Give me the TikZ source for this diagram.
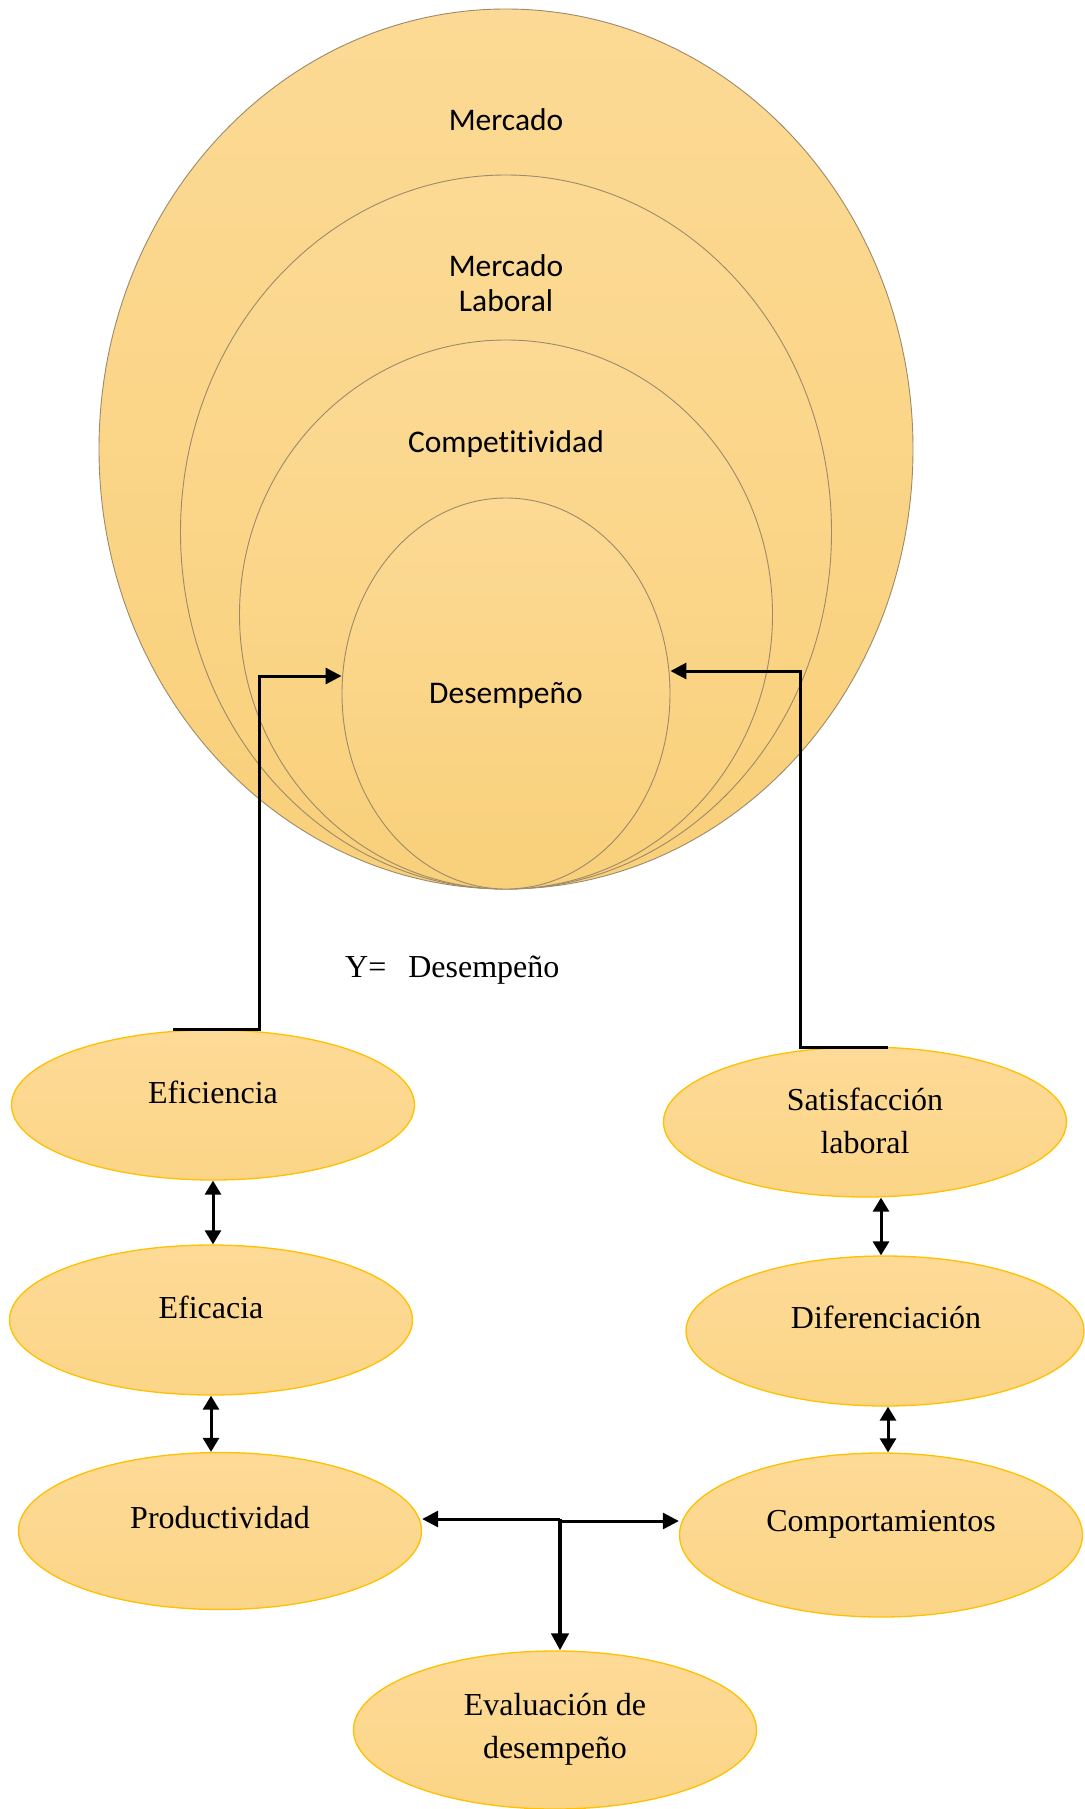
\documentclass[tikz,border=0pt]{standalone}
\usepackage{fontspec}
\setmainfont{Liberation Serif}
\newfontfamily\calib[Ligatures={NoCommon}]{Carlito}
\usetikzlibrary{shapes.geometric,arrows.meta}
\definecolor{ringtop}{HTML}{FCDA95}
\definecolor{ringbot}{HTML}{F9D07A}
\definecolor{ringline}{HTML}{9C8A6A}
\definecolor{ovtop}{HTML}{FDDA97}
\definecolor{ovbot}{HTML}{FBD587}
\definecolor{ovline}{HTML}{FFC000}
\begin{document}
\begin{tikzpicture}[x=1pt,y=-1pt,
  ring/.style={ellipse, draw=ringline, line width=0.9pt, top color=ringtop, bottom color=ringbot, inner sep=0pt},
  oval/.style={ellipse, draw=ovline, line width=1.3pt, top color=ovtop, bottom color=ovbot, inner sep=0pt, minimum width=403pt, minimum height=150pt},
  ctxt/.style={font=\calib\fontsize{31.5}{35}\selectfont, align=center, inner sep=0pt},
  stxt/.style={font=\fontsize{32}{43}\selectfont, align=center, inner sep=0pt},
  conn/.style={line width=3pt, -{Triangle[length=16pt,width=16pt]}},
  dbl/.style={line width=3pt, {Triangle[length=14pt,width=16pt]}-{Triangle[length=14pt,width=16pt]}}
]
\useasboundingbox (0,0) rectangle (1084,1809);

% nested rings
\node[ring, minimum width=814pt, minimum height=880pt] (merc) at (506,449) {};
\node[ring, minimum width=651pt, minimum height=714pt] (lab) at (506,532) {};
\node[ring, minimum width=533pt, minimum height=549pt] (comp1) at (506,614.5) {};
\node[ring, minimum width=328pt, minimum height=391pt] (des) at (506,693.5) {};

\node[ctxt] (tmerc) at (506,120) {Mercado};
\node[ctxt] (tlab) at (506,283) {Mercado\\Laboral};
\node[ctxt] (tcomp) at (506,444) {Competitividad};
\node[ctxt] (tdes) at (506,696) {Desempeño};

% Y label
\node[stxt, anchor=west] (ylab) at (345,970) {Y=\hspace{22pt}Desempeño};

% lower ovals
\node[oval] (efi) at (213,1105) {};
\node[oval] (efa) at (211,1320) {};
\node[oval, minimum height=157pt] (prod) at (220,1531) {};
\node[oval] (sat) at (865,1122) {};
\node[oval, minimum width=398pt] (dif) at (885,1331) {};
\node[oval, minimum height=164pt] (cmp) at (881,1535) {};
\node[oval, minimum height=158pt] (eva) at (555,1730) {};

\node[stxt] (tefi) at (213,1092) {Eficiencia};
\node[stxt] (tefa) at (211,1307) {Eficacia};
\node[stxt] (tprod) at (220,1518) {Productividad};
\node[stxt] (tsat) at (865,1121) {Satisfacción\\laboral};
\node[stxt] (tdif) at (886,1317) {Diferenciación};
\node[stxt] (tcmp) at (881,1524) {Comportamientos};
\node[stxt] (teva) at (555,1729) {Evaluación de\\desempeño};

% connectors to Desempeño
\coordinate (l0) at (173,1029);
\coordinate (l1) at (259,1029);
\coordinate (l2) at (259,676);
\draw[conn] (l0) -- (l1) -- (l2) -- (des.west |- l2);

\coordinate (r0) at (888,1047);
\coordinate (r1) at (800,1047);
\coordinate (r2) at (800,671);
\draw[conn] (r0) -- (r1) -- (r2) -- (des.east |- r2);

% vertical double arrows
\draw[dbl] (efi.south) -- (efi.south |- efa.north);
\draw[dbl] (efa.south) -- (efa.south |- prod.north);
\draw[dbl] (sat.south -| 881,0) -- (881,0 |- dif.north);
\draw[dbl] (dif.south -| 888,0) -- (888,0 |- cmp.north);

% bottom junction
\coordinate (j) at (560,1519);
\coordinate (j2) at (562,1521);
\draw[conn] (j) -- (prod.east |- j);
\draw[line width=4.6pt, -{Triangle[length=17pt,width=17pt]}] (j) -- (j |- eva.north);
\draw[conn] (j2) -- (cmp.west |- j2);
\end{tikzpicture}
\end{document}
